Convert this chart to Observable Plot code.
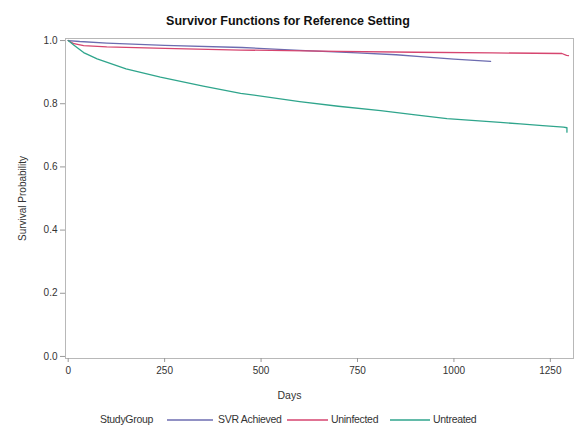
<!DOCTYPE html>
<html>
<head>
<meta charset="utf-8">
<script src="https://cdn.jsdelivr.net/npm/d3@7"></script>
<script src="https://cdn.jsdelivr.net/npm/@observablehq/plot@0.6"></script>
<style>
  body { margin: 0; background: #fff; font-family: "Liberation Sans", Arial, sans-serif; }
  #wrap { position: relative; width: 576px; height: 427px; overflow: hidden; }
  #title { position: absolute; left: 0; top: 14px; width: 576px; text-align: center; font-weight: bold; font-size: 12.5px; color: #111; }
  #chart { position: absolute; left: 0; top: 28px; }
  #legend { position: absolute; top: 413px; left: 0; width: 576px; height: 14px; font-size: 10.5px; color: #333; }
  #legend span, #legend svg { position: absolute; top: 0; }
</style>
</head>
<body>
<div id="wrap">
  <div id="title">Survivor Functions for Reference Setting</div>
  <div id="chart"></div>
  <div id="legend"></div>
</div>
<script>
const groups = ["SVR Achieved", "Uninfected", "Untreated"];
const colors = ["#6c6cb0", "#d6456f", "#2fa58c"];

const svrDays = [0, 30, 100, 250, 450, 600, 750, 850, 913, 1000, 1095];
const svrSurv = [1.0, 0.997, 0.992, 0.985, 0.978, 0.969, 0.961, 0.955, 0.949, 0.941, 0.934];

const uninfDays = [0, 15, 40, 100, 250, 447, 700, 900, 1100, 1280, 1292, 1297];
const uninfSurv = [1.0, 0.99, 0.984, 0.98, 0.975, 0.97, 0.966, 0.963, 0.961, 0.959, 0.953, 0.952];

const untrDays = [0, 15, 40, 75, 150, 239, 350, 447, 600, 700, 810, 900, 982, 1120, 1172, 1230, 1284, 1293, 1293];
const untrSurv = [1.0, 0.985, 0.962, 0.942, 0.91, 0.884, 0.856, 0.833, 0.807, 0.792, 0.778, 0.765, 0.753, 0.741, 0.736, 0.731, 0.726, 0.724, 0.71];

const xTicks = [0, 250, 500, 750, 1000, 1250];
const yTicks = [0.0, 0.2, 0.4, 0.6, 0.8, 1.0];
const xLabel = "Days";
const yLabel = "Survival Probability";

const data = [];
svrDays.forEach((d, i) => data.push({group: groups[0], day: d, surv: svrSurv[i]}));
uninfDays.forEach((d, i) => data.push({group: groups[1], day: d, surv: uninfSurv[i]}));
untrDays.forEach((d, i) => data.push({group: groups[2], day: d, surv: untrSurv[i]}));

const chart = Plot.plot({
  width: 576,
  height: 377,
  marginLeft: 65,
  marginRight: 3,
  marginTop: 10,
  marginBottom: 47,
  style: {fontFamily: "Liberation Sans, Arial, sans-serif", fontSize: "10px", color: "#333", background: "#fff"},
  x: {domain: [-7, 1310], ticks: xTicks, tickFormat: d => String(d)},
  y: {domain: [-0.0065, 1.0065], ticks: yTicks, tickFormat: d => d.toFixed(1)},
  color: {domain: groups, range: colors},
  marks: [
    Plot.frame({stroke: "#b8b8b8"}),
    Plot.axisX({ticks: xTicks, tickFormat: d => String(d), tickSize: 4, tickPadding: 4, stroke: "#999", label: null, fontSize: 10}),
    Plot.text([xLabel], {text: d => d, frameAnchor: "bottom", dy: 40, dx: -30, fontSize: 10.5, fill: "#333"}),
    Plot.axisY({ticks: yTicks, tickFormat: d => d.toFixed(1), tickSize: 5, tickPadding: 3, stroke: "#999", label: yLabel, labelArrow: "none", labelAnchor: "center", labelOffset: 47, fontSize: 10}),
    Plot.line(data, {x: "day", y: "surv", z: "group", stroke: "group", strokeWidth: 1.3})
  ]
});
document.getElementById("chart").appendChild(chart);

// legend
const leg = document.getElementById("legend");
const items = [
  {type: "text", text: "StudyGroup", x: 100},
  {type: "swatch", color: colors[0], x: 167, w: 46},
  {type: "text", text: groups[0], x: 218},
  {type: "swatch", color: colors[1], x: 287, w: 41},
  {type: "text", text: groups[1], x: 331},
  {type: "swatch", color: colors[2], x: 390, w: 40},
  {type: "text", text: groups[2], x: 433}
];
items.forEach(it => {
  if (it.type === "text") {
    const s = document.createElement("span");
    s.textContent = it.text;
    s.style.left = it.x + "px";
    s.style.letterSpacing = "-0.3px";
    leg.appendChild(s);
  } else {
    const ns = "http://www.w3.org/2000/svg";
    const svg = document.createElementNS(ns, "svg");
    svg.setAttribute("width", it.w);
    svg.setAttribute("height", 14);
    svg.style.left = it.x + "px";
    const l = document.createElementNS(ns, "line");
    l.setAttribute("x1", 0); l.setAttribute("x2", it.w);
    l.setAttribute("y1", 7); l.setAttribute("y2", 7);
    l.setAttribute("stroke", it.color); l.setAttribute("stroke-width", 1.3);
    svg.appendChild(l);
    leg.appendChild(svg);
  }
});
</script>
</body>
</html>
